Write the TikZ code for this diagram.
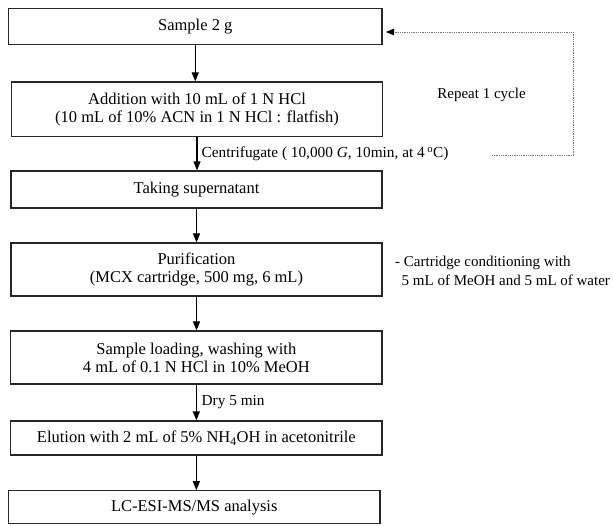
\documentclass[tikz,border=0pt]{standalone}
\usepackage{fontspec}
\setmainfont{Liberation Serif}
\usetikzlibrary{arrows.meta}
\begin{document}
\begin{tikzpicture}[x=1pt,y=-1pt,
  box/.style={draw=black!85, line width=1.2pt, inner sep=0pt, align=center,
     font=\fontsize{16.5}{17.8}\selectfont},
  arr/.style={line width=1.1pt, -{Triangle[length=9pt,width=7pt]}},
  lbl/.style={anchor=west, inner sep=0pt, font=\fontsize{15.3}{17}\selectfont},
  note/.style={inner sep=0pt, align=left, font=\fontsize{15}{18.3}\selectfont},
  dotline/.style={black!55, line width=0.8pt, densely dotted},
  dottip/.style={-{Triangle[length=8pt,width=6.5pt]}}]
\useasboundingbox (0,0) rectangle (613,525);
\node[box, minimum width=373.5pt, minimum height=36pt] (b1) at (195.25,26.5) {Sample 2 g};
\node[box, minimum width=371pt, minimum height=54.5pt] (b2) at (197,109.25)
  {Addition with 10 mL of 1 N HCl\\(10 mL of 10\% ACN in 1 N HCl : flatfish)};
\node[box, minimum width=371pt, minimum height=37pt] (b3) at (196.5,189.5) {Taking supernatant};
\node[box, minimum width=371pt, minimum height=53pt] (b4) at (196.5,269.5)
  {Purification\\(MCX cartridge, 500 mg, 6 mL)};
\node[box, minimum width=371.3pt, minimum height=53pt] (b5) at (196.35,357.5)
  {Sample loading, washing with\\4 mL of 0.1 N HCl in 10\% MeOH};
\node[box, minimum width=371.3pt, minimum height=34pt] (b6) at (196.35,438)
  {Elution with 2 mL of 5\% NH\textsubscript{4}OH in acetonitrile};
\node[box, minimum width=371.5pt, minimum height=33pt] (b7) at (194.25,507.3) {LC-ESI-MS/MS analysis};

\draw[arr] (b1.south) -- (b1.south |- b2.north);
\draw[arr] (b2.south) -- (b2.south |- b3.north);
\draw[arr] (b3.south) -- (b3.south |- b4.north);
\draw[arr] (b4.south) -- (b4.south |- b5.north);
\draw[arr] (b5.south) -- (b5.south |- b6.north);
\draw[arr] (b6.south) -- (b6.south |- b7.north);

\node[lbl] (cf) at (201.5,154) {Centrifugate ( 10,000 \textit{G}, 10min, at 4\,\textsuperscript{o}C)};
\node[lbl] (dry) at (201.5,402) {Dry 5 min};

\node[inner sep=0pt, font=\fontsize{15}{17}\selectfont] (rep) at (481.5,95) {Repeat 1 cycle};
\node[note, anchor=west] (cond) at (395,271)
  {- Cartridge conditioning with\\\hspace*{6.5pt}5 mL of MeOH and 5 mL of water};

\coordinate (r1) at (492,155);
\coordinate (r2) at (573,155);
\coordinate (r3) at (573,32);
\coordinate (r4) at (386,32);
\draw[dotline] (r1) -- (r2) -- (r3) -- ([xshift=6pt]r4);
\draw[dottip, black] ([xshift=6pt]r4) -- (r4);
\end{tikzpicture}
\end{document}
